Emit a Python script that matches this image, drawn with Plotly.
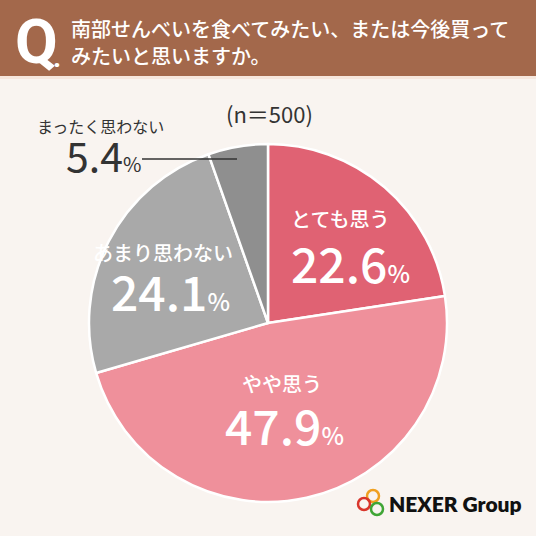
import plotly.graph_objects as go

W, H = 536, 536

# -------------------------
# Data
# -------------------------
labels = ["とても思う", "やや思う", "あまり思わない", "まったく思わない"]
values = [22.6, 47.9, 24.1, 5.4]
colors = ["#E06273", "#EF909B", "#A9A9A9", "#8F8F8F"]
question = ["南部せんべいを食べてみたい、または今後買って", "みたいと思いますか。"]
sample_note = "(n＝500)"

FONT = "Noto Sans CJK JP"


def px_x(x):
    return x / W


def px_y(y):
    return 1 - y / H


fig = go.Figure(go.Pie(
    labels=labels,
    values=values,
    sort=False,
    direction="clockwise",
    rotation=0,
    marker=dict(colors=colors, line=dict(color="white", width=2.5)),
    textinfo="none",
    hoverinfo="label+percent",
    showlegend=False,
    domain=dict(x=[px_x(89), px_x(447)], y=[px_y(502), px_y(144)]),
))

ann = []


def add_text(x, y, text, size, color="white", weight=500, anchor="center", family=FONT):
    ann.append(dict(x=px_x(x), y=px_y(y), xref="paper", yref="paper",
                    text=text, showarrow=False, xanchor=anchor, yanchor="middle",
                    font=dict(family=family, size=size, color=color, weight=weight)))


def pct(v, size_small):
    return f"{v}<span style='font-size:{size_small}px'>%</span>"


# slice labels (label text, percent)
add_text(340, 219, labels[0], 20)
add_text(350, 262, pct(values[0], 24), 48)
add_text(282, 383, labels[1], 20)
add_text(284, 424, pct(values[1], 24), 48)
add_text(163, 252, labels[2], 20)
add_text(170, 290, pct(values[2], 24), 48)
add_text(100, 126, labels[3], 16, color="#333333", weight=400)
add_text(103, 154, pct(values[3], 20), 41, color="#333333", weight=400)
add_text(269, 113, sample_note, 22, color="#333333", weight=400)

# header
add_text(13, 41, "Q", 62, weight=700, anchor="left", family="Roboto")
add_text(51, 57, ".", 28, weight=700, anchor="left", family="Roboto")
add_text(69, 28, question[0], 20, anchor="left")
add_text(69, 56, question[1], 20, anchor="left")

# logo text
add_text(387, 503, "NEXER Group", 21, color="#111111", weight=800, anchor="left", family="Lato")

shapes = [
    dict(type="rect", xref="paper", yref="paper", x0=0, x1=1, y0=px_y(76), y1=1,
         fillcolor="#A3684B", line=dict(width=0), layer="below"),
    dict(type="rect", xref="paper", yref="paper", x0=0, x1=1, y0=px_y(79), y1=px_y(76),
         fillcolor="#F6E7DD", line=dict(width=0), layer="below"),
    dict(type="line", xref="paper", yref="paper", x0=px_x(142), x1=px_x(237),
         y0=px_y(159), y1=px_y(159), line=dict(color="#333333", width=1.5)),
]
# logo circles
for cx, cy, c in [(373, 496, "#F0A020"), (364, 504, "#D9352B"), (377, 509, "#3FA535")]:
    r = 6
    shapes.append(dict(type="circle", xref="paper", yref="paper",
                       x0=px_x(cx - r), x1=px_x(cx + r), y0=px_y(cy + r), y1=px_y(cy - r),
                       line=dict(color=c, width=2.5)))

fig.update_layout(
    width=W, height=H,
    margin=dict(l=0, r=0, t=0, b=0),
    paper_bgcolor="#F9F4F0",
    plot_bgcolor="#F9F4F0",
    annotations=ann,
    shapes=shapes,
)

fig.write_html("out.html", config={"displayModeBar": False},
               post_script="document.body.style.margin='0';")
